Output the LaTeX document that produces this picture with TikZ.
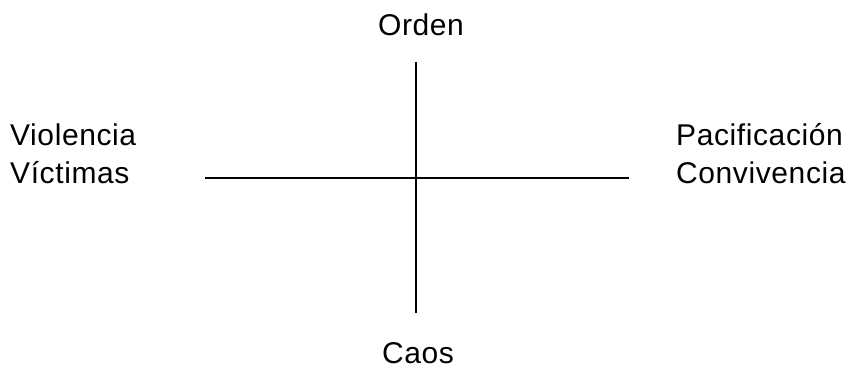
\documentclass[tikz,border=0pt]{standalone}
\usepackage{fontspec}
\setmainfont{Liberation Sans}[LetterSpace=2]
\begin{document}
\begin{tikzpicture}[x=1pt,y=-1pt,
  lbl/.style={inner sep=0pt,font=\fontsize{30}{36}\selectfont},
  axis/.style={line width=1.5pt,black}]
\useasboundingbox (0,0) rectangle (852,369);
\coordinate (top) at (416,62);
\coordinate (bot) at (416,313);
\coordinate (lft) at (205,178);
\coordinate (rgt) at (629,178);
\draw[axis] (top) -- (bot);
\draw[axis] (lft) -- (rgt);
\node[lbl,anchor=base] (orden) at (421,36) {Orden};
\node[lbl,anchor=base] (caos) at (418,363) {Caos};
\node[lbl,anchor=base west] (viol) at (10,145) {Violencia};
\node[lbl,anchor=base west] (vict) at (10,183) {Víctimas};
\node[lbl,anchor=base west] (paci) at (676,145) {Pacificación};
\node[lbl,anchor=base west] (conv) at (676,183) {Convivencia};
\end{tikzpicture}
\end{document}
